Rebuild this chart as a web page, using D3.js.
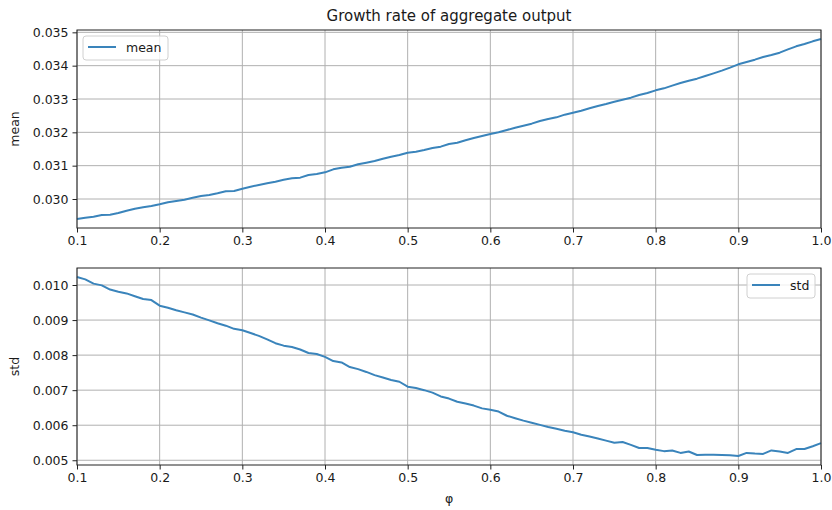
<!DOCTYPE html>
<html><head><meta charset="utf-8">
<script src="https://cdn.jsdelivr.net/npm/d3@7/dist/d3.min.js"></script>
<style>
html,body{margin:0;padding:0;background:#fff;}
text{font-family:"DejaVu Sans",sans-serif;fill:#1a1a1a;}
</style></head>
<body>
<svg id="chart" width="832" height="510"></svg>
<script>
const phi = d3.range(91).map(i => +(0.1 + i*0.01).toFixed(2));
const meanValues = [
0.02940,0.02944,0.02947,0.02952,0.02953,0.02958,0.02965,0.02971,0.02975,0.02979,
0.02984,0.02990,0.02994,0.02998,0.03004,0.03009,0.03012,0.03017,0.03023,0.03024,
0.03031,0.03037,0.03042,0.03047,0.03052,0.03058,0.03062,0.03064,0.03072,0.03075,
0.03080,0.03089,0.03094,0.03097,0.03104,0.03109,0.03114,0.03121,0.03127,0.03132,
0.03139,0.03142,0.03147,0.03153,0.03157,0.03165,0.03169,0.03176,0.03183,0.03189,
0.03195,0.03200,0.03207,0.03214,0.03220,0.03226,0.03234,0.03240,0.03245,0.03253,
0.03259,0.03265,0.03272,0.03279,0.03285,0.03292,0.03298,0.03304,0.03312,0.03318,
0.03326,0.03332,0.03340,0.03348,0.03355,0.03361,0.03369,0.03377,0.03385,0.03394,
0.03404,0.03411,0.03418,0.03426,0.03432,0.03439,0.03449,0.03458,0.03465,0.03473,
0.03480];
const stdValues = [
0.01023,0.01016,0.01004,0.00999,0.00987,0.00981,0.00976,0.00968,0.00960,0.00957,
0.00941,0.00935,0.00928,0.00922,0.00916,0.00907,0.00899,0.00891,0.00884,0.00875,
0.00871,0.00863,0.00855,0.00845,0.00834,0.00827,0.00823,0.00816,0.00806,0.00803,
0.00795,0.00783,0.00779,0.00766,0.00760,0.00752,0.00743,0.00736,0.00729,0.00724,
0.00710,0.00706,0.00700,0.00693,0.00682,0.00676,0.00667,0.00662,0.00656,0.00648,
0.00644,0.00639,0.00627,0.00620,0.00613,0.00607,0.00601,0.00595,0.00590,0.00584,
0.00580,0.00573,0.00568,0.00562,0.00556,0.00550,0.00552,0.00544,0.00535,0.00535,
0.00530,0.00526,0.00528,0.00521,0.00525,0.00515,0.00516,0.00516,0.00515,0.00514,
0.00512,0.00521,0.00519,0.00518,0.00528,0.00525,0.00521,0.00532,0.00532,0.00540,
0.00549];
const xTicks = [0.1,0.2,0.3,0.4,0.5,0.6,0.7,0.8,0.9,1.0];
const meanTicks = [0.030,0.031,0.032,0.033,0.034,0.035];
const stdTicks = [0.005,0.006,0.007,0.008,0.009,0.010];
const title = "Growth rate of aggregate output";
const xLabel = "φ";

const svg = d3.select("#chart");
const left = 77, right = 821;
const color = "#3a84bb";

function panel(top, bottom, values, ticks, fmt, ylab, legendRight, showTitle, showXLabel) {
  const x = d3.scaleLinear().domain([0.1, 1.0]).range([left, right]);
  const [mn, mx] = d3.extent(values);
  const pad = (mx - mn) * 0.05;
  const y = d3.scaleLinear().domain([mn - pad, mx + pad]).range([bottom, top]);
  const g = svg.append("g");
  // grid
  g.append("g").selectAll("line.vx").data(xTicks).join("line")
    .attr("x1", d => x(d)).attr("x2", d => x(d)).attr("y1", top).attr("y2", bottom)
    .attr("stroke", "#b0b0b0").attr("stroke-width", 1);
  g.append("g").selectAll("line.hy").data(ticks).join("line")
    .attr("x1", left).attr("x2", right).attr("y1", d => y(d)).attr("y2", d => y(d))
    .attr("stroke", "#b0b0b0").attr("stroke-width", 1);
  // line
  g.append("path").datum(values.map((v, i) => [phi[i], v]))
    .attr("fill", "none").attr("stroke", color).attr("stroke-width", 2)
    .attr("stroke-linejoin", "round")
    .attr("d", d3.line().x(d => x(d[0])).y(d => y(d[1])));
  // axes
  const xa = g.append("g").attr("transform", `translate(0,${bottom})`)
    .call(d3.axisBottom(x).tickValues(xTicks).tickFormat(d3.format(".1f")).tickSize(4.5).tickPadding(4));
  const ya = g.append("g").attr("transform", `translate(${left},0)`)
    .call(d3.axisLeft(y).tickValues(ticks).tickFormat(d3.format(fmt)).tickSize(4.5).tickPadding(4));
  [xa, ya].forEach(a => {
    a.select(".domain").remove();
    a.selectAll("line").attr("stroke", "#222").attr("stroke-width", 1);
    a.selectAll("text").attr("font-size", "12.5px").attr("fill", "#1a1a1a")
      .style("font-family", "'DejaVu Sans', sans-serif");
  });
  // frame
  g.append("rect").attr("x", left).attr("y", top).attr("width", right - left).attr("height", bottom - top)
    .attr("fill", "none").attr("stroke", "#222").attr("stroke-width", 1);
  // y label
  g.append("text").attr("transform", `translate(19,${(top + bottom) / 2}) rotate(-90)`)
    .attr("text-anchor", "middle").attr("font-size", "12.5px").text(ylab);
  // legend
  const lw = legendRight ? 68 : 85;
  const lx = legendRight ? right - 6 - lw : left + 6;
  const ly = top + 6;
  const lg = g.append("g");
  lg.append("rect").attr("x", lx).attr("y", ly).attr("width", lw).attr("height", 24).attr("rx", 3)
    .attr("fill", "#fff").attr("fill-opacity", 0.8).attr("stroke", "#d0d0d0").attr("stroke-width", 1);
  lg.append("line").attr("x1", lx + 5).attr("x2", lx + 33).attr("y1", ly + 11).attr("y2", ly + 11)
    .attr("stroke", color).attr("stroke-width", 2);
  lg.append("text").attr("x", lx + 43).attr("y", ly + 16).attr("font-size", "12.5px").text(ylab);
  if (showTitle) {
    svg.append("text").attr("x", (left + right) / 2).attr("y", 21).attr("text-anchor", "middle")
      .attr("font-size", "15px").text(title);
  }
  if (showXLabel) {
    svg.append("text").attr("x", (left + right) / 2).attr("y", 503).attr("text-anchor", "middle")
      .attr("font-size", "12.5px").text(xLabel);
  }
}

panel(30, 228, meanValues, meanTicks, ".3f", "mean", false, true, false);
panel(268, 465, stdValues, stdTicks, ".3f", "std", true, false, true);
</script>
</body></html>
